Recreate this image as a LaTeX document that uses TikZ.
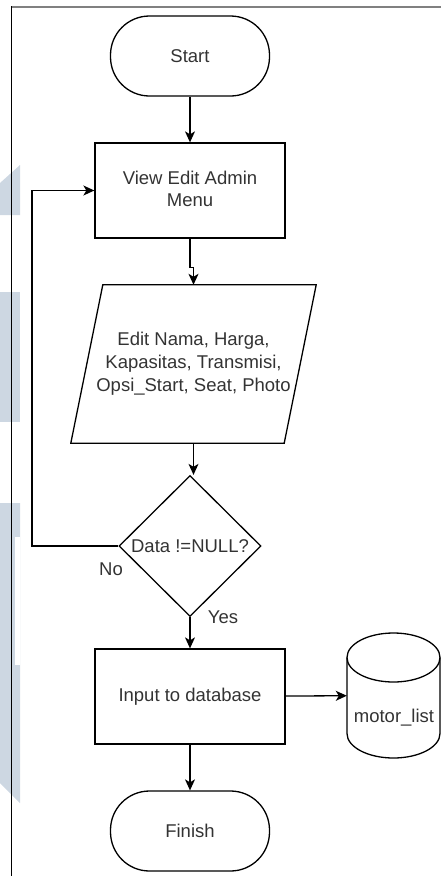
\documentclass[tikz,border=0pt]{standalone}
\usepackage{fontspec}
\setmainfont{Liberation Sans}
\usetikzlibrary{shapes.geometric,arrows.meta}
\definecolor{inkgray}{HTML}{333333}
\definecolor{wmark}{HTML}{CDD7E2}
\definecolor{framegray}{HTML}{808080}
\begin{document}
\begin{tikzpicture}[x=1pt,y=-1pt,
  every node/.style={font=\fontsize{18.5}{23}\selectfont, text=inkgray},
  flow/.style={draw=black, line width=1.3pt},
  procbox/.style={flow, rectangle, minimum width=190pt, minimum height=95pt, inner sep=0pt},
  termbox/.style={flow, rectangle, rounded corners=39pt, minimum width=159pt, minimum height=80pt, inner sep=0pt},
  iobox/.style={rectangle, minimum width=245pt, minimum height=158pt, inner sep=0pt, align=center},
  decbox/.style={flow, diamond, minimum width=142pt, minimum height=141pt, inner sep=0pt},
  arr/.style={line width=1.3pt, -{Stealth[length=11pt,width=10pt,inset=3pt]}},
  lbl/.style={inner sep=0pt}
]
\useasboundingbox (0,0) rectangle (441,876);

% background marks along the left edge
\fill[wmark] (0,183) -- (20,165) -- (20,215) -- (0,215) -- cycle;
\fill[wmark] (0,292) rectangle (20,422);
\fill[wmark] (0,503) -- (20,503) -- (20,803) -- (0,783) -- cycle;
\fill[white] (15,537) rectangle (20,665);

% page frame
\draw[framegray, line width=2pt] (11,7) -- (441,7);
\draw[black, line width=1pt] (11.5,6) -- (11.5,876);

% flowchart nodes
\node[termbox] (start) at (190,56) {Start};
\node[procbox] (view) at (190,190.5) {\begin{tabular}{@{}c@{}}View Edit Admin\\[-1pt]Menu\end{tabular}};
\node[iobox] (para) at (193.5,364) {Edit Nama, Harga,\\Kapasitas, Transmisi,\\Opsi\_Start, Seat, Photo};
\draw[flow] ([xshift=32pt]para.north west) -- (para.north east)
  -- ([xshift=-32pt]para.south east) -- (para.south west) -- cycle;
\node[decbox] (dec) at (190,546) {};
\node[lbl] (dectext) at (190,546) {Data !=NULL?};
\node[procbox] (input) at (190,696.5) {Input to database};
\node[termbox] (finish) at (190,831) {Finish};

% database cylinder
\node[minimum width=93pt, minimum height=125pt, inner sep=0pt] (db) at (393.5,695.5) {};
\draw[flow] (347,657.5) -- (347,733.5) arc[start angle=180, end angle=0, x radius=46.5, y radius=24.5] -- (440,657.5);
\draw[flow] (393.5,657.5) ellipse[x radius=46.5, y radius=24.5];
\node[lbl] (dbtext) at (394,718) {motor\_list};

% branch labels
\node[lbl] (nolbl) at (111,569) {No};
\node[lbl] (yeslbl) at (223,617) {Yes};

% connectors
\coordinate (loopturn) at (32,546);
\draw[arr] (start) -- (view);
\draw[arr] (view.south) -- ++(0,29) -| (para.north);
\draw[arr] (para.south) -- (para.south |- dec.north);
\draw[arr] (dec.south) -- (input);
\draw[arr] (input) -- (db);
\draw[arr] (input) -- (finish);
\draw[arr] (dec.west) -- (loopturn) |- (view.west);
\end{tikzpicture}
\end{document}
